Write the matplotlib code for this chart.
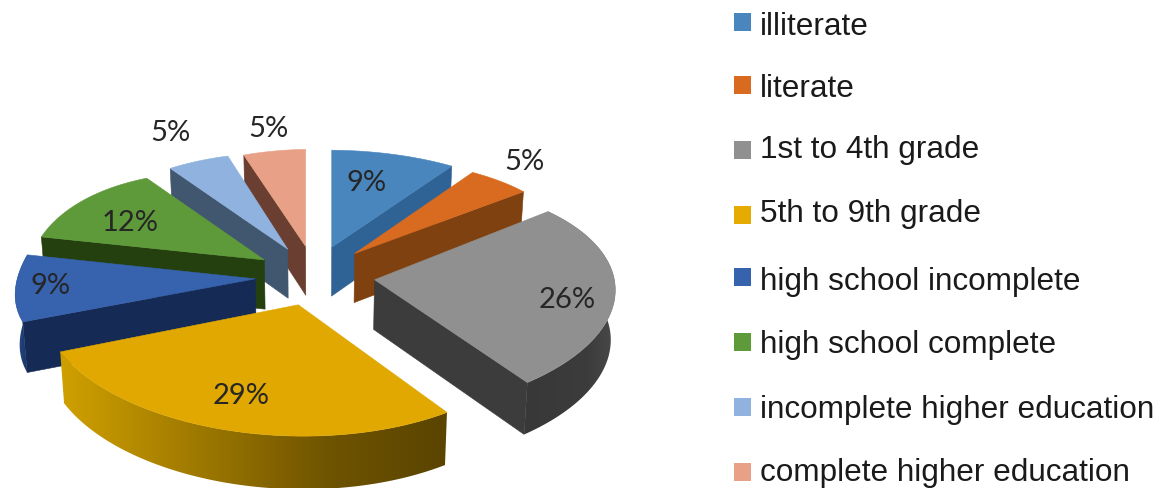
import numpy as np
import matplotlib
matplotlib.use('Agg')
import matplotlib.pyplot as plt
from matplotlib.colors import to_rgb
from matplotlib.patches import Polygon, Rectangle

categories = ['illiterate', 'literate', '1st to 4th grade', '5th to 9th grade',
              'high school incomplete', 'high school complete',
              'incomplete higher education', 'complete higher education']
shares = [9, 5, 26, 29, 9, 12, 5, 5]

top_colors = ['#4a86be', '#d96b20', '#909090', '#e0a800',
              '#3662ae', '#5f9a3a', '#8fb2de', '#e8a186']
wall_colors = ['#2f6395', '#7e410f', '#3c3c3c', '#6e5300',
               '#152b55', '#25400f', '#41566f', '#6a3e31']
legend_colors = ['#4a86be', '#d96b20', '#909090', '#e5ab00',
                 '#3662ae', '#5f9a3a', '#8fb2de', '#e8a186']
# rim shading from the left end of the rim to the right end
rim_stops = {2: ['#383838', '#3c3c3c', '#4a4a4a'],
             3: ['#d0a000', '#6e5300', '#5a4400'],
             4: ['#2c4f8f', '#1a3468', '#152b55']}

# rim radii per slice in px: (start, end) of each arc, the tilt and
# perspective make the front slices bigger than the back ones
rx_ends = [(224, 224), (220, 219), (225, 260), (253, 256),
           (250, 232), (227, 200), (200, 194), (200, 200)]
ry_ends = [(97, 96), (96, 97), (107, 127), (133, 128),
           (117, 128), (123, 101), (100, 98), (96, 97)]

center_x, center_y = 315, 277
explode_x, explode_y = 60, 30

# back to front so nearer slices cover the walls behind them
draw_order = [0, 7, 6, 1, 5, 4, 2, 3]

label_pos = [(367, 183), (524, 162), (567, 300), (241, 396),
             (51, 286), (130, 223), (170, 133), (268, 129)]
legend_baselines = [35, 97, 158, 222, 290, 353, 418, 481]
swatch_centers = [22.5, 86, 150.5, 215.5, 278, 343, 408, 473]


def drop(x, y):
    # bottom edge under a top point, pulled in a little for the perspective
    return x - (x - center_x) * 0.015, y + 49 + 3 * (y - 250) / 135.0


def wall(ax, p, q, color, z):
    bx0, by0 = drop(*p)
    bx1, by1 = drop(*q)
    ax.add_patch(Polygon([p, q, (bx1, by1), (bx0, by0)], closed=True,
                         facecolor=color, edgecolor=color, lw=0.4, zorder=z))


def shaded_rim(ax, xs, ys, stops, z):
    bx, by = drop(xs, ys)
    outline = list(zip(xs, ys)) + list(zip(bx[::-1], by[::-1]))
    clip = Polygon(outline, closed=True, facecolor='none', edgecolor='none',
                   transform=ax.transData)
    ax.add_patch(clip)
    rgb = np.array([to_rgb(c) for c in stops])
    pos = np.linspace(0, 1, 256)
    strip = np.stack([np.interp(pos, [0, 0.7, 1], rgb[:, c]) for c in range(3)], axis=-1)
    im = ax.imshow(strip[np.newaxis, :, :], extent=(min(xs.min(), bx.min()), max(xs.max(), bx.max()),
                                                    max(ys.max(), by.max()), min(ys.min(), by.min())),
                   aspect='auto', zorder=z, interpolation='bilinear')
    im.set_clip_path(clip)


fig = plt.figure(figsize=(11.68, 4.89), dpi=100)
ax = fig.add_axes([0, 0, 1, 1])

edges = np.concatenate([[0], np.cumsum(shares)]) / np.sum(shares) * 360.0

for rank, i in enumerate(draw_order):
    z = 2 + rank
    a0, a1 = edges[i], edges[i + 1]
    mid = np.radians((a0 + a1) / 2)
    apex = (center_x + explode_x * np.sin(mid), center_y - explode_y * np.cos(mid))

    theta = np.linspace(a0, a1, 81)
    frac = (theta - a0) / (a1 - a0)
    rx = rx_ends[i][0] + (rx_ends[i][1] - rx_ends[i][0]) * frac
    ry = ry_ends[i][0] + (ry_ends[i][1] - ry_ends[i][0]) * frac
    xs = apex[0] + rx * np.sin(np.radians(theta))
    ys = apex[1] - ry * np.cos(np.radians(theta))

    # radial side walls, only the ones facing the viewer
    if a1 < 180:
        wall(ax, apex, (xs[-1], ys[-1]), wall_colors[i], z)
    if a0 > 180:
        wall(ax, apex, (xs[0], ys[0]), wall_colors[i], z)

    if i in rim_stops:
        shaded_rim(ax, xs, ys, rim_stops[i], z)

    top = [apex] + list(zip(xs, ys))
    ax.add_patch(Polygon(top, closed=True, facecolor=top_colors[i],
                         edgecolor=top_colors[i], lw=0.4, zorder=z + 0.5))

for value, (x, y) in zip(shares, label_pos):
    ax.text(x, y, f'{value}%', ha='center', va='center', fontsize=21,
            family='Lato', color='#262626', zorder=20)

for name, color, base, mid_y in zip(categories, legend_colors, legend_baselines, swatch_centers):
    ax.add_patch(Rectangle((733.5, mid_y - 9), 17.5, 18, facecolor=color, edgecolor='none'))
    ax.text(760, base, name, ha='left', va='baseline', fontsize=22.7,
            family='Liberation Sans', color='#1a1a1a')

ax.set_xlim(0, 1168)
ax.set_ylim(489, 0)
ax.axis('off')

fig.savefig('out.png', dpi=100)
